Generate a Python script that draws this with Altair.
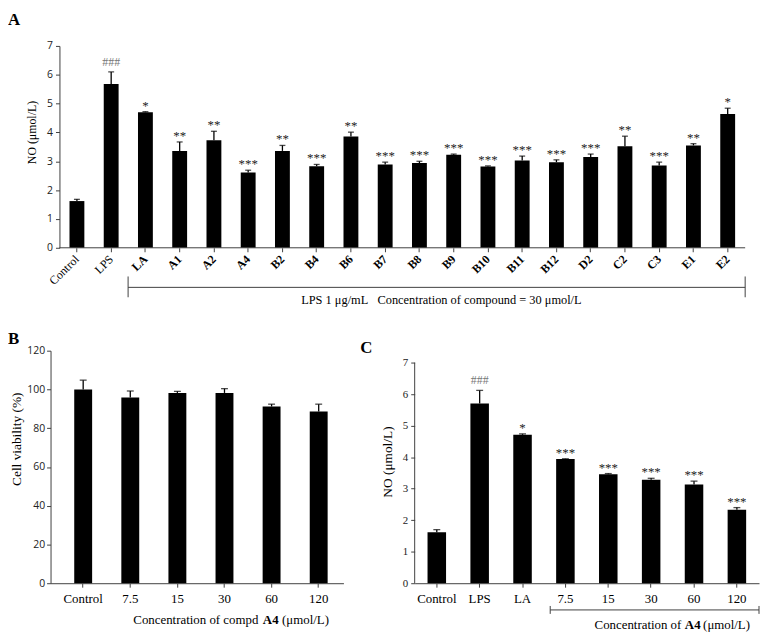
import altair as alt
import pandas as pd

# ---------------- data ----------------
a_cats = ["Control", "LPS", "LA", "A1", "A2", "A4", "B2", "B4", "B6", "B7",
          "B8", "B9", "B10", "B11", "B12", "D2", "C2", "C3", "E1", "E2"]
a_vals = [1.62, 5.68, 4.70, 3.36, 3.73, 2.61, 3.36, 2.83, 3.86, 2.89,
          2.94, 3.23, 2.82, 3.03, 2.97, 3.15, 3.52, 2.85, 3.55, 4.64]
a_errs = [1.68, 6.10, 4.72, 3.67, 4.04, 2.69, 3.55, 2.89, 4.01, 2.97,
          3.00, 3.25, 2.84, 3.18, 3.05, 3.25, 3.87, 2.97, 3.61, 4.84]
a_marks = ["", "###", "*", "**", "**", "***", "**", "***", "**", "***",
           "***", "***", "***", "***", "***", "***", "**", "***", "**", "*"]

b_cats = ["Control", "7.5", "15", "30", "60", "120"]
b_vals = [100.0, 95.8, 98.2, 98.2, 91.2, 88.6]
b_errs = [104.8, 99.2, 99.0, 100.4, 92.4, 92.4]

c_cats = ["Control", "LPS", "LA", "7.5", "15", "30", "60", "120"]
c_vals = [1.62, 5.70, 4.71, 3.94, 3.46, 3.28, 3.13, 2.33]
c_errs = [1.70, 6.12, 4.74, 3.95, 3.48, 3.33, 3.24, 2.40]
c_marks = ["", "###", "*", "***", "***", "***", "***", "***"]

SERIF = "Liberation Serif"
SANS = "Open Sans"
AX = "#404040"
NB = "\u00a0"

df_a = pd.DataFrame({"cat": a_cats, "val": a_vals, "err": a_errs, "mark": a_marks})
df_b = pd.DataFrame({"cat": b_cats, "val": b_vals, "err": b_errs})
df_c = pd.DataFrame({"cat": c_cats, "val": c_vals, "err": c_errs, "mark": c_marks})


def label_chart(text, x, y, size=17, weight="bold", align="left", baseline="top",
                color="black"):
    return alt.Chart(pd.DataFrame({"t": [text]})).mark_text(
        font=SERIF, fontSize=size, fontWeight=weight, align=align,
        baseline=baseline, color=color
    ).encode(x=alt.value(x), y=alt.value(y), text="t:N")


def anchor(x, y):
    # invisible element fixing the panel's outer extent
    return alt.Chart(pd.DataFrame({"k": [0]})).mark_rule(strokeOpacity=0, strokeWidth=0).encode(
        x=alt.value(x), y=alt.value(y), y2=alt.value(y + 1))


def bar_layers(df, xenc, yaxis, yscale, cap=6, marks=True):
    base = alt.Chart(df)
    y_val = alt.Y("val:Q", scale=yscale, axis=yaxis)
    y_err = alt.Y("err:Q", scale=yscale, axis=yaxis)
    bars = base.mark_bar(color="black").encode(x=xenc, y=y_val)
    err = base.mark_rule(color="black", strokeWidth=1.3).encode(x=xenc, y=y_val, y2="err:Q")
    capm = base.mark_tick(color="black", thickness=1.3, size=cap).encode(x=xenc, y=y_err)
    layers = [bars, err, capm]
    if marks:
        stars = base.transform_filter("indexof(datum.mark, '*') >= 0").mark_text(
            font=SERIF, fontSize=13, baseline="alphabetic", dy=-2, color="#222"
        ).encode(x=xenc, y=y_err, text="mark:N")
        hashes = base.transform_filter("indexof(datum.mark, '#') >= 0").mark_text(
            font=SERIF, fontSize=12, baseline="alphabetic", dy=-6, color="#777"
        ).encode(x=xenc, y=y_err, text="mark:N")
        layers += [stars, hashes]
    return layers


# ---------------- panel A ----------------
# the view starts 9px left of the y axis so that its left edge lines up with panel B
A_SHIFT = 9
A_W, A_H = 693 + A_SHIFT, 204
a_xaxis = alt.Axis(
    labelAngle=-45, labelAlign="right", labelBaseline="middle",
    labelFont=SERIF, labelFontSize=12, labelColor="black", labelPadding=5,
    labelFontWeight={"condition": {"test": "datum.label == 'Control' || datum.label == 'LPS'",
                                   "value": "normal"}, "value": "bold"},
    tickSize=4, domain=False, tickColor=AX)
a_scale_x = alt.Scale(domain=a_cats, range=[A_SHIFT, A_W],
                      paddingInner=0.566, paddingOuter=0.293)
a_x = alt.X("cat:N", title=None, scale=a_scale_x, axis=a_xaxis)
a_yscale = alt.Scale(domain=[0, 7], nice=False)
a_yaxis = alt.Axis(
    values=list(range(8)), title="NO (μmol/L)", titleFont=SERIF, titleFontSize=12,
    titleFontWeight="normal", titleAngle=270, titleBaseline="middle", titleAlign="center",
    titleX=-28, titleY=87, labelFont=SANS, labelFontSize=10.5, labelColor="#222",
    tickSize=4, labelPadding=3, domainColor=AX, tickColor=AX, offset=-A_SHIFT)
a_layers = bar_layers(df_a, a_x, a_yaxis, a_yscale)
a_xline = alt.Chart(pd.DataFrame({"z": [0]})).mark_rule(color=AX, strokeWidth=1).encode(
    x=alt.value(A_SHIFT), x2=alt.value(A_W),
    y=alt.Y("z:Q", scale=a_yscale, axis=a_yaxis))

br_a = pd.DataFrame({"cat": ["LA"]})
a_xb = alt.X("cat:N", title=None, scale=a_scale_x, axis=a_xaxis, bandPosition=0)
a_br_h = alt.Chart(br_a).mark_rule(color=AX, strokeWidth=1, xOffset=-10).encode(
    x=a_xb, x2=alt.value(A_W), y=alt.value(244))
a_br_l = alt.Chart(br_a).mark_rule(color=AX, strokeWidth=1, xOffset=-10).encode(
    x=a_xb, y=alt.value(233), y2=alt.value(254))
a_br_r = alt.Chart(br_a).mark_rule(color=AX, strokeWidth=1).encode(
    x=alt.value(A_W), y=alt.value(233), y2=alt.value(254))
a_br_t = label_chart("LPS 1 μg/mL" + NB * 3 + "Concentration of compound = 30 μmol/L",
                     386 + A_SHIFT, 257, size=12.5, weight="normal", align="center",
                     baseline="middle")
a_lab = label_chart("A", -43, -34)

chartA = alt.layer(*a_layers, a_xline, a_br_h, a_br_l, a_br_r, a_br_t, a_lab,
                   anchor(-43, -34)).properties(width=A_W, height=A_H)

# ---------------- panel B ----------------
B_W, B_H = 296, 235
b_xaxis = alt.Axis(labelAngle=0, labelFont=SERIF, labelFontSize=13, labelColor="black",
                   labelPadding=5, tickSize=4, domainColor=AX, tickColor=AX)
b_x = alt.X("cat:N", title=None, axis=b_xaxis,
            scale=alt.Scale(domain=b_cats, paddingInner=0.62, paddingOuter=0.419, align=0.6))
b_yaxis = alt.Axis(
    values=list(range(0, 121, 20)), title="Cell viability (%)", titleFont=SERIF,
    titleFontSize=13.5, titleFontWeight="normal", titleAngle=270, titleBaseline="middle",
    titleAlign="center", titleX=-34, titleY=89, labelFont=SANS, labelFontSize=10.5,
    labelColor="#222", tickSize=4, labelPadding=2, domainColor=AX, tickColor=AX)
b_layers = bar_layers(df_b, b_x, b_yaxis, alt.Scale(domain=[0, 120], nice=False),
                      cap=7, marks=False)
b_t1 = label_chart("Concentration of compd", 210, 272, size=13, weight="normal",
                   align="right", baseline="middle")
b_t2 = label_chart("A4", 222.5, 272, size=13, weight="bold", align="center", baseline="middle")
b_t3 = label_chart("(μmol/L)", 234, 272, size=13, weight="normal", align="left",
                   baseline="middle")
b_lab = label_chart("B", -43, -20)
chartB = alt.layer(*b_layers, b_t1, b_t2, b_t3, b_lab, anchor(-43, -20)).properties(
    width=B_W, height=B_H)

# ---------------- panel C ----------------
C_W, C_H = 348, 235
C_TOP = 7.38
c_xaxis = alt.Axis(labelAngle=0, labelFont=SERIF, labelFontSize=13, labelColor="black",
                   labelPadding=5, tickSize=4, domainColor=AX, tickColor=AX)
c_scale_x = alt.Scale(domain=c_cats, paddingInner=0.568, paddingOuter=0.3)
c_x = alt.X("cat:N", title=None, scale=c_scale_x, axis=c_xaxis)
c_yscale = alt.Scale(domain=[0, C_TOP], nice=False)
c_yaxis = alt.Axis(
    values=list(range(8)), title="NO (μmol/L)", titleFont=SERIF, titleFontSize=13.5,
    titleFontWeight="normal", titleAngle=270, titleBaseline="middle", titleAlign="center",
    titleX=-27, titleY=112, labelFont=SERIF, labelFontSize=11, labelColor="#222",
    tickSize=4, labelPadding=3, domain=False, tickColor=AX)
c_layers = bar_layers(df_c, c_x, c_yaxis, c_yscale, cap=7)
c_axisline = alt.Chart(pd.DataFrame({"lo": [0], "hi": [7]})).mark_rule(
    color=AX, strokeWidth=1).encode(
    x=alt.value(0), y=alt.Y("lo:Q", scale=c_yscale, axis=c_yaxis), y2="hi:Q")
br_c = pd.DataFrame({"cat": ["7.5"]})
c_xb = alt.X("cat:N", title=None, scale=c_scale_x, axis=c_xaxis, bandPosition=0)
c_br_h = alt.Chart(br_c).mark_rule(color=AX, strokeWidth=1, xOffset=-6).encode(
    x=c_xb, x2=alt.value(C_W), y=alt.value(262))
c_br_l = alt.Chart(br_c).mark_rule(color=AX, strokeWidth=1, xOffset=-6).encode(
    x=c_xb, y=alt.value(258), y2=alt.value(266))
c_br_r = alt.Chart(br_c).mark_rule(color=AX, strokeWidth=1).encode(
    x=alt.value(C_W), y=alt.value(258), y2=alt.value(266))
c_t1 = label_chart("Concentration of", 269.5, 277, size=13, weight="normal",
                   align="right", baseline="middle")
c_t2 = label_chart("A4", 281, 277, size=13, weight="bold", align="center", baseline="middle")
c_t3 = label_chart("(μmol/L)", 291.5, 277, size=13, weight="normal", align="left",
                   baseline="middle")
c_lab = label_chart("C", -55, -11)
chartC = alt.layer(*c_layers, c_axisline, c_br_h, c_br_l, c_br_r, c_t1, c_t2, c_t3,
                   c_lab, anchor(-55, -20)).properties(width=C_W, height=C_H)

rowBC = alt.hconcat(chartB, chartC, spacing=17)

chart = alt.vconcat(chartA, rowBC, spacing=23).properties(
    padding=0, autosize=alt.AutoSizeParams(type="pad")
).configure_view(stroke=None).configure_axis(grid=False)

chart.save("out.html", embed_options={"renderer": "svg", "actions": False})
